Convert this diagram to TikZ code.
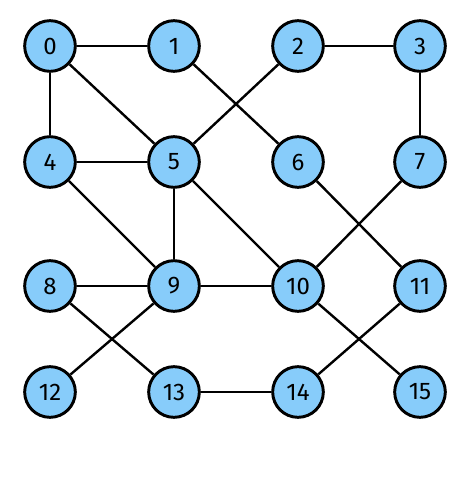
\documentclass[tikz,border=0pt]{standalone}
\usepackage{fontspec}
\setmainfont{Fira Sans}
\definecolor{nodeblue}{RGB}{135,204,250}
\tikzset{
  vtx/.style={circle, draw, line width=2.2pt, fill=nodeblue, minimum size=38pt, inner sep=0pt, font=\fontsize{18}{20}\selectfont},
  lnk/.style={line width=1.8pt}
}
\begin{document}
\begin{tikzpicture}[x=0.75pt, y=-0.75pt]

  \useasboundingbox (0,0) rectangle (474,485);

  \node[vtx] (n0) at (50,46)    {0};
  \node[vtx] (n1) at (174,46)   {1};
  \node[vtx] (n2) at (298,46)   {2};
  \node[vtx] (n3) at (420,46)   {3};

  \node[vtx] (n4) at (50,162)   {4};
  \node[vtx] (n5) at (174,162)  {5};
  \node[vtx] (n6) at (298,162)  {6};
  \node[vtx] (n7) at (420,162)  {7};

  \node[vtx] (n8) at (50,286)   {8};
  \node[vtx] (n9) at (174,286)  {9};
  \node[vtx] (n10) at (298,286) {10};
  \node[vtx] (n11) at (420,286) {11};

  \node[vtx] (n12) at (50,392)  {12};
  \node[vtx] (n13) at (174,392) {13};
  \node[vtx] (n14) at (298,392) {14};
  \node[vtx] (n15) at (420,392) {15};

  % Edges
  \draw[lnk] (n0) -- (n1);
  \draw[lnk] (n0) -- (n4);
  \draw[lnk] (n0) -- (n5);
  \draw[lnk] (n1) -- (n6);
  \draw[lnk] (n2) -- (n3);
  \draw[lnk] (n2) -- (n5);
  \draw[lnk] (n3) -- (n7);
  \draw[lnk] (n4) -- (n5);
  \draw[lnk] (n4) -- (n9);
  \draw[lnk] (n5) -- (n9);
  \draw[lnk] (n5) -- (n10);
  \draw[lnk] (n6) -- (n11);
  \draw[lnk] (n7) -- (n10);
  \draw[lnk] (n8) -- (n9);
  \draw[lnk] (n8) -- (n13);
  \draw[lnk] (n9) -- (n10);
  \draw[lnk] (n9) -- (n12);
  \draw[lnk] (n10) -- (n15);
  \draw[lnk] (n11) -- (n14);
  \draw[lnk] (n13) -- (n14);

\end{tikzpicture}
\end{document}
